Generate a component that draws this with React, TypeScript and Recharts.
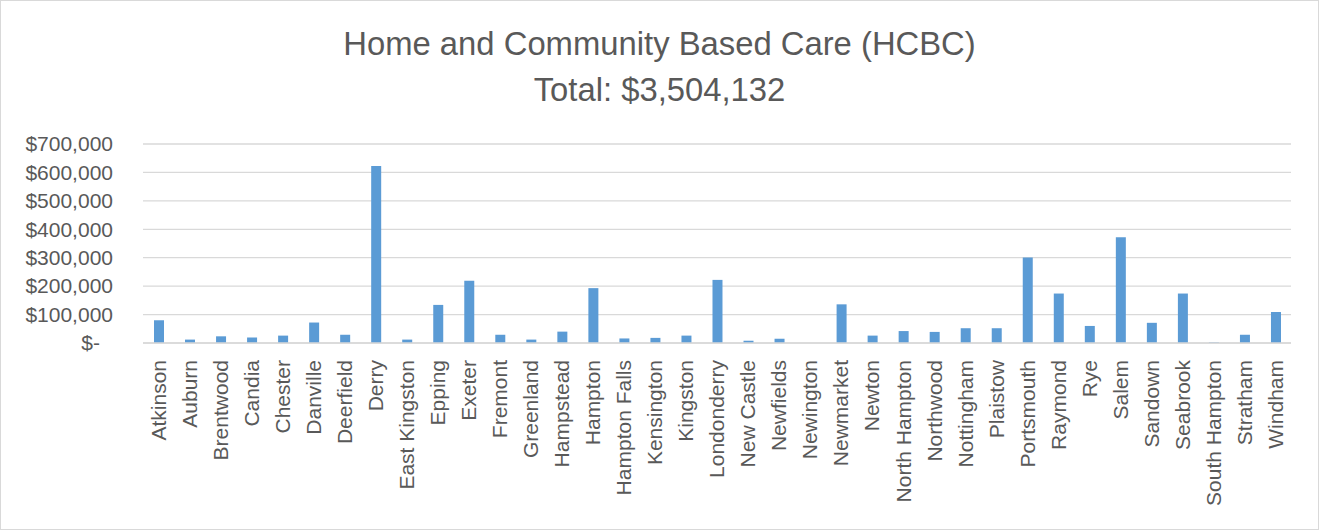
import { BarChart, Bar, XAxis, YAxis, CartesianGrid } from "recharts";

const towns = [
  "Atkinson", "Auburn", "Brentwood", "Candia", "Chester", "Danville", "Deerfield",
  "Derry", "East Kingston", "Epping", "Exeter", "Fremont", "Greenland", "Hampstead",
  "Hampton", "Hampton Falls", "Kensington", "Kingston", "Londonderry", "New Castle",
  "Newfields", "Newington", "Newmarket", "Newton", "North Hampton", "Northwood",
  "Nottingham", "Plaistow", "Portsmouth", "Raymond", "Rye", "Salem", "Sandown",
  "Seabrook", "South Hampton", "Stratham", "Windham",
];

const amounts = [
  80000, 12000, 23500, 19000, 26000, 72000, 29000,
  623000, 12000, 134000, 219000, 29000, 12000, 40000,
  193000, 16000, 18000, 26000, 222000, 8000,
  15000, 0, 136000, 26000, 42000, 39000,
  52000, 52000, 301000, 174000, 60000, 372000, 71000,
  174000, 2000, 29000, 109000,
];

const yTicks = [0, 100000, 200000, 300000, 400000, 500000, 600000, 700000];

const data = towns.map((town, i) => ({ town, amount: amounts[i] }));

const FONT = "'Liberation Sans', Arial, sans-serif";
const TEXT = "#595959";

function YTick({ x, y, payload }: any) {
  const v = payload.value as number;
  const label = v === 0 ? "$-" : "$" + v.toLocaleString("en-US");
  return (
    <text
      x={v === 0 ? x - 13 : x}
      y={y}
      dy="0.35em"
      textAnchor="end"
      fill={TEXT}
      fontSize={21}
      fontFamily={FONT}
    >
      {label}
    </text>
  );
}

function XTick({ x, y, payload }: any) {
  return (
    <g transform={`translate(${x},${y})`}>
      <text
        transform="rotate(-90)"
        x={-9}
        y={0}
        dy="0.35em"
        textAnchor="end"
        fill={TEXT}
        fontSize={21}
        fontFamily={FONT}
      >
        {payload.value}
      </text>
    </g>
  );
}

export default function App() {
  return (
    <div
      style={{
        position: "absolute",
        left: 0,
        top: 0,
        width: 1319,
        height: 530,
        border: "1px solid #d9d9d9",
        background: "#fff",
        boxSizing: "border-box",
        fontFamily: FONT,
      }}
    >
      <div
        style={{
          position: "absolute",
          left: 0,
          width: "100%",
          top: 27,
          textAlign: "center",
          fontSize: 32.8,
          lineHeight: "32px",
          color: TEXT,
        }}
      >
        Home and Community Based Care (HCBC)
      </div>
      <div
        style={{
          position: "absolute",
          left: 0,
          width: "100%",
          top: 73,
          textAlign: "center",
          fontSize: 32.8,
          lineHeight: "32px",
          color: TEXT,
        }}
      >
        Total: $3,504,132
      </div>
      <BarChart
        width={1317}
        height={528}
        data={data}
        margin={{ top: 143, right: 27, bottom: 8, left: 8 }}
      >
        <CartesianGrid vertical={false} stroke="#d9d9d9" strokeWidth={1.3} />
        <XAxis
          dataKey="town"
          interval={0}
          height={178}
          tickLine={false}
          axisLine={{ stroke: "#d9d9d9", strokeWidth: 1.3 }}
          tick={<XTick />}
        />
        <YAxis
          width={134}
          domain={[0, 700000]}
          ticks={yTicks}
          tickLine={false}
          axisLine={false}
          tickMargin={24}
          tick={<YTick />}
        />
        <Bar dataKey="amount" fill="#5b9bd5" barSize={10} isAnimationActive={false} />
      </BarChart>
    </div>
  );
}
